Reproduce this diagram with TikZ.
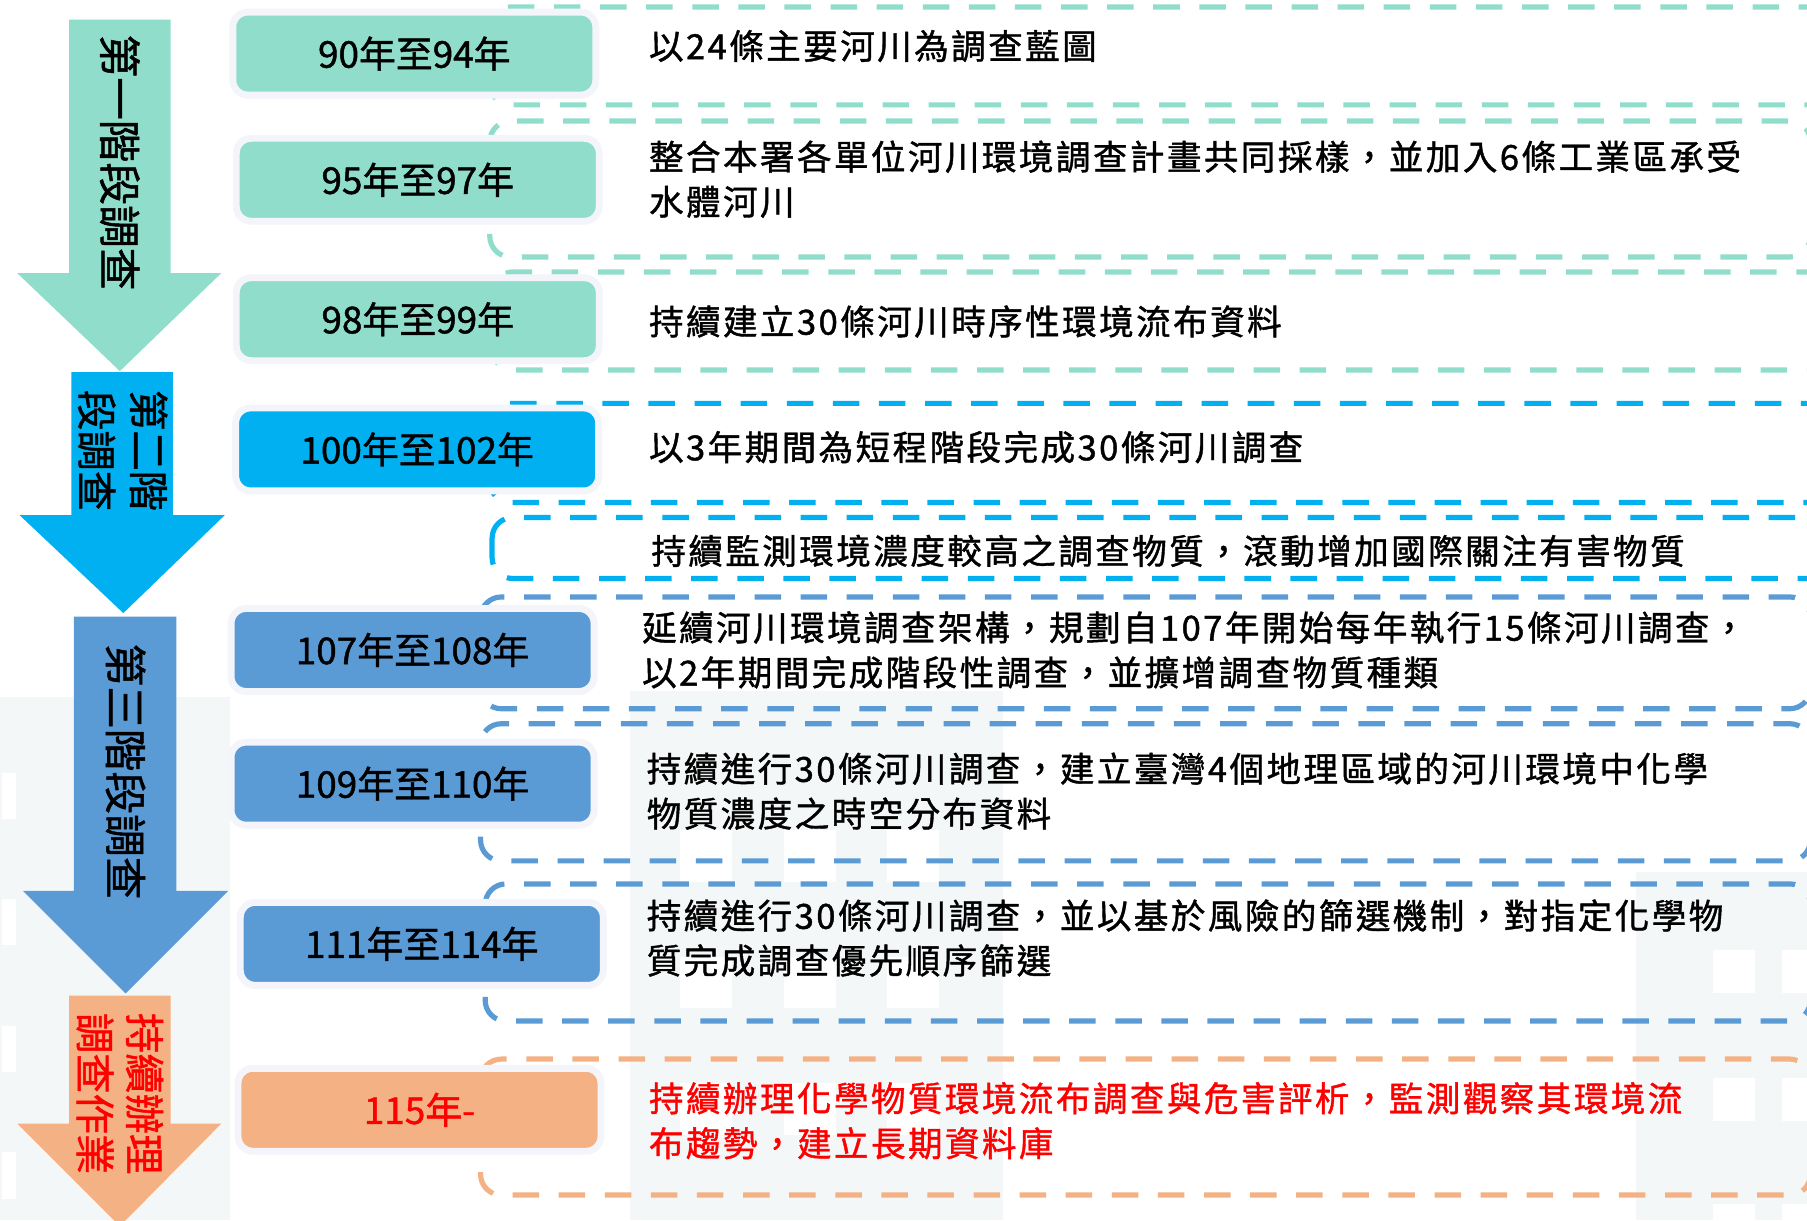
\documentclass[tikz,border=0pt]{standalone}
\usepackage{fontspec}
\setmainfont[FakeBold=1.2]{Noto Sans CJK TC}
\newfontfamily\descfont[LetterSpace=7,FakeBold=1.2]{Noto Sans CJK TC}
\definecolor{cteal}{HTML}{8FDDCA}
\definecolor{ccyan}{HTML}{00B0F0}
\definecolor{cblue}{HTML}{5B9BD5}
\definecolor{corange}{HTML}{F4B183}
\definecolor{halo}{HTML}{F4F5FB}
\definecolor{bgbld}{HTML}{F4F7F8}
\definecolor{cred}{HTML}{FF0000}
\tikzset{
  yearbox/.style={draw=halo, line width=6pt, rounded corners=13pt, minimum width=315pt,
    minimum height=72pt, inner sep=0pt, font=\fontsize{32}{38}\selectfont},
  dbox/.style={dash pattern=on 23pt off 17pt, line width=4.5pt, rounded corners=18pt},
  desc/.style={anchor=west, align=left, inner sep=0pt, font=\descfont\fontsize{30}{39}\selectfont},
  arrtext/.style={rotate=-90, align=center, inner sep=0pt},
  win/.style={fill=white}
}
\begin{document}
\begin{tikzpicture}[x=1pt,y=-1pt]
\useasboundingbox (0,0) rectangle (1568,1059);
\clip (0,0) rectangle (1568,1059);
% faint background buildings
\fill[bgbld] (0,605) rectangle (200,1059);
\foreach \yy in {671,780,890,1000} {\fill[win] (2,\yy) rectangle (14,\yy+40);}
\fill[bgbld] (547,600) rectangle (870,1059);
\foreach \xx in {590,680,770} {\foreach \yy in {720,830,940} {\fill[win] (\xx,\yy) rectangle (\xx+45,\yy+45);}}
\fill[bgbld] (1420,757) rectangle (1568,1059);
\foreach \yy in {824,935,1045} {\fill[win] (1486,\yy) rectangle (1523,\yy+38); \fill[win] (1546,\yy) rectangle (1583,\yy+38);}
% dashed frames
\draw[dbox, cteal] (425,6) rectangle (1620,91);
\draw[dbox, cteal] (425,105) rectangle (1571,223);
\draw[dbox, cteal] (427,236) rectangle (1620,321);
\draw[dbox, ccyan] (425,350) rectangle (1620,436);
\draw[dbox, ccyan] (427,449) rectangle (1620,502);
\draw[dbox, cblue] (417,518) rectangle (1571,615);
\draw[dbox, cblue] (417,628) rectangle (1571,747);
\draw[dbox, cblue] (421,767) rectangle (1571,886);
\draw[dbox, corange] (417,919) rectangle (1571,1037);
% stage arrows
\fill[cteal] (60,17) -- (148,17) -- (148,237) -- (192,237) -- (104,322) -- (15,237) -- (60,237) -- cycle;
\fill[ccyan] (62,323) -- (150,323) -- (150,447) -- (195,447) -- (107,532) -- (17,447) -- (62,447) -- cycle;
\fill[cblue] (64,535) -- (153,535) -- (153,773) -- (198,773) -- (109,862) -- (20,773) -- (64,773) -- cycle;
\fill[corange] (60,864) -- (148,864) -- (148,975) -- (192,975) -- (104,1064) -- (15,975) -- (60,975) -- cycle;
\node[arrtext, font=\fontsize{37}{45}\selectfont] (s1) at (104,141) {第一階段調查};
\node[arrtext, font=\fontsize{35}{45}\selectfont] (s2) at (106.5,391) {第二階\\段調查};
\node[arrtext, font=\fontsize{37}{45}\selectfont] (s3) at (109,669.5) {第三階段調查};
\node[arrtext, text=cred, font=\fontsize{35}{43}\selectfont] (s4) at (104,949) {持續辦理\\調查作業};
% year boxes
\node[yearbox, fill=cteal] (y1) at (359.5,46.5) {90年至94年};
\node[yearbox, fill=cteal] (y2) at (362.5,156) {95年至97年};
\node[yearbox, fill=cteal] (y3) at (362.5,277) {98年至99年};
\node[yearbox, fill=ccyan] (y4) at (362,390) {100年至102年};
\node[yearbox, fill=cblue] (y5) at (358,564) {107年至108年};
\node[yearbox, fill=cblue] (y6) at (358,680) {109年至110年};
\node[yearbox, fill=cblue] (y7) at (366,819) {111年至114年};
\node[yearbox, fill=corange, text=cred] (y8) at (364,963) {115年-};
% descriptions
\node[desc] (t1) at (563,40) {以24條主要河川為調查藍圖};
\node[desc] (t2) at (563,155.5) {整合本署各單位河川環境調查計畫共同採樣，並加入6條工業區承受\\水體河川};
\node[desc] (t3) at (563,279) {持續建立30條河川時序性環境流布資料};
\node[desc] (t4) at (563,388) {以3年期間為短程階段完成30條河川調查};
\node[desc] (t5) at (565,478) {持續監測環境濃度較高之調查物質，滾動增加國際關注有害物質};
\node[desc] (t6) at (557,564) {延續河川環境調查架構，規劃自107年開始每年執行15條河川調查，\\以2年期間完成階段性調查，並擴增調查物質種類};
\node[desc] (t7) at (561,686.5) {持續進行30條河川調查，建立臺灣4個地理區域的河川環境中化學\\物質濃度之時空分布資料};
\node[desc] (t8) at (561,814) {持續進行30條河川調查，並以基於風險的篩選機制，對指定化學物\\質完成調查優先順序篩選};
\node[desc, text=cred] (t9) at (563,972.5) {持續辦理化學物質環境流布調查與危害評析，監測觀察其環境流\\布趨勢，建立長期資料庫};
\end{tikzpicture}
\end{document}
